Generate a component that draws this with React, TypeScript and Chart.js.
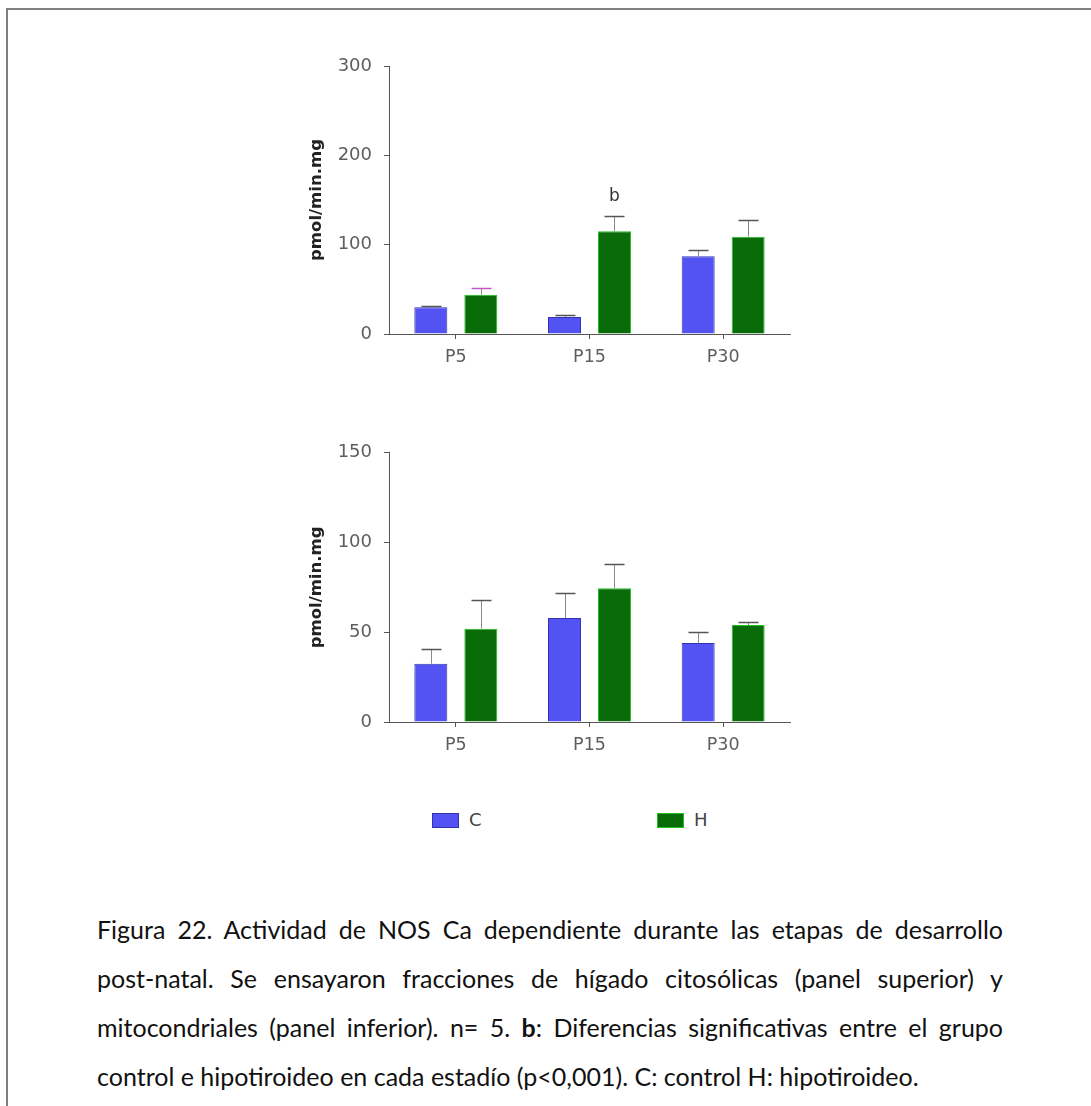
import React, { useEffect, useRef } from 'react';
import { Chart, registerables } from 'chart.js';

Chart.register(...registerables);

// ---------------- data ----------------
const categories = ['P5', 'P15', 'P30'];
const seriesLabels = ['C', 'H'];

// upper panel (cytosolic)
const topC = [30, 19, 87];
const topH = [44, 115, 109];
const topCErr = [1, 2, 7];
const topHErr = [7.5, 17, 19];
const topMax = 300;
const topStep = 100;

// lower panel (mitochondrial)
const bottomC = [32.5, 58, 44];
const bottomH = [52, 74.5, 54];
const bottomCErr = [8, 14, 6];
const bottomHErr = [16, 13.5, 1.5];
const bottomMax = 150;
const bottomStep = 50;

const yTitle = 'pmol/min.mg';
// significance marks: [seriesIndex, categoryIndex, text]
const topMarks: [number, number, string][] = [[1, 1, 'b']];
const bottomMarks: [number, number, string][] = [];

const captionLines = [
  'Figura 22. Actividad de NOS Ca dependiente durante las etapas de desarrollo',
  'post-natal. Se ensayaron fracciones de hígado citosólicas (panel superior) y',
  'mitocondriales (panel inferior). n= 5. <b>b</b>: Diferencias significativas entre el grupo',
  'control e hipotiroideo en cada estadío (p<0,001). C: control H: hipotiroideo.',
];

// ---------------- styles ----------------
const BLUE = '#5353f4';
const BLUE_BORDER = '#3434b0';
const GREEN = '#096c09';
const GREEN_BORDER = '#22c022';
const AXIS = '#555555';
const TICK_TEXT = '#5e5e5e';
const CHART_FONT = '"DejaVu Sans", Verdana, sans-serif';

const errorBarPlugin = {
  id: 'errorBars',
  afterDatasetsDraw(chart: any, _args: any, opts: any) {
    const { ctx } = chart;
    const yScale = chart.scales.y;
    ctx.save();
    chart.data.datasets.forEach((ds: any, di: number) => {
      const meta = chart.getDatasetMeta(di);
      const errs = opts.errors[di] || [];
      meta.data.forEach((bar: any, i: number) => {
        const v = ds.data[i];
        const e = errs[i] || 0;
        const yTop = Math.round(yScale.getPixelForValue(v + e)) + 0.5;
        const yBase = yScale.getPixelForValue(v);
        const x = Math.round(bar.x) + 0.5;
        ctx.strokeStyle = opts.lineColor;
        ctx.lineWidth = 1;
        ctx.beginPath();
        ctx.moveTo(x, yBase);
        ctx.lineTo(x, yTop);
        ctx.stroke();
        ctx.strokeStyle = (opts.capColors && opts.capColors[di] && opts.capColors[di][i]) || opts.capColor;
        ctx.lineWidth = 1.5;
        ctx.beginPath();
        ctx.moveTo(x - opts.capHalf, yTop);
        ctx.lineTo(x + opts.capHalf, yTop);
        ctx.stroke();
      });
    });
    (opts.marks || []).forEach((m: [number, number, string]) => {
      const [di, i, text] = m;
      const meta = chart.getDatasetMeta(di);
      const bar: any = meta.data[i];
      const v = chart.data.datasets[di].data[i];
      const e = (opts.errors[di] || [])[i] || 0;
      const y = yScale.getPixelForValue(v + e) - 20;
      ctx.fillStyle = '#333';
      ctx.font = '17px ' + CHART_FONT;
      ctx.textAlign = 'center';
      ctx.textBaseline = 'middle';
      ctx.fillText(text, bar.x, y);
    });
    ctx.restore();
  },
};

type PanelProps = {
  cVals: number[];
  hVals: number[];
  cErr: number[];
  hErr: number[];
  max: number;
  step: number;
  marks: [number, number, string][];
  padTop: number;
  xHeight: number;
  capColors?: (string | null)[][];
};

function Panel(p: PanelProps) {
  const ref = useRef<HTMLCanvasElement | null>(null);
  useEffect(() => {
    if (!ref.current) return;
    const chart = new Chart(ref.current, {
      type: 'bar',
      data: {
        labels: categories,
        datasets: [
          {
            label: seriesLabels[0],
            data: p.cVals,
            backgroundColor: BLUE,
            borderColor: BLUE_BORDER,
            borderWidth: 1,
            categoryPercentage: 0.748,
            barPercentage: 0.66,
          },
          {
            label: seriesLabels[1],
            data: p.hVals,
            backgroundColor: GREEN,
            borderColor: GREEN_BORDER,
            borderWidth: 1,
            categoryPercentage: 0.748,
            barPercentage: 0.66,
          },
        ],
      },
      options: {
        responsive: false,
        animation: false,
        devicePixelRatio: 1,
        layout: { padding: { top: p.padTop, right: 20, left: 0, bottom: 0 } },
        plugins: {
          legend: { display: false },
          tooltip: { enabled: false },
          errorBars: {
            errors: [p.cErr, p.hErr],
            lineColor: '#8a8a8a',
            capColor: '#555555',
            capColors: p.capColors,
            capHalf: 10,
            marks: p.marks,
          },
        } as any,
        scales: {
          x: {
            type: 'category',
            offset: true,
            grid: {
              display: true,
              drawOnChartArea: false,
              drawTicks: true,
              tickLength: 5,
              offset: false,
              color: AXIS,
            },
            border: { display: true, color: AXIS, width: 1 },
            ticks: {
              color: TICK_TEXT,
              padding: 8,
              font: { family: CHART_FONT, size: 17.5 },
            },
            afterFit: (s: any) => {
              s.height = p.xHeight;
            },
          },
          y: {
            min: 0,
            max: p.max,
            grid: {
              display: true,
              drawOnChartArea: false,
              drawTicks: true,
              tickLength: 5,
              color: AXIS,
            },
            border: { display: true, color: AXIS, width: 1 },
            ticks: {
              stepSize: p.step,
              color: TICK_TEXT,
              padding: 12,
              font: { family: CHART_FONT, size: 18 },
            },
            title: {
              display: true,
              text: yTitle,
              color: '#222',
              padding: { top: 17, bottom: 0 },
              font: { family: CHART_FONT, size: 16.5, weight: 'bold' },
            },
            afterFit: (s: any) => {
              s.width = 99;
            },
          },
        },
      },
      plugins: [errorBarPlugin],
    });
    return () => chart.destroy();
  }, []);
  return <canvas ref={ref} width={520} height={340} style={{ width: 520, height: 340, display: 'block' }} />;
}

const captionStyle: React.CSSProperties = {
  position: 'absolute',
  left: 97,
  width: 906,
  fontFamily: 'Lato, "Open Sans", sans-serif',
  fontSize: 25,
  lineHeight: '27px',
  color: '#111',
};

export default function App() {
  const legendItems = [
    { label: seriesLabels[0], color: BLUE, border: BLUE_BORDER, left: 432 },
    { label: seriesLabels[1], color: GREEN, border: GREEN_BORDER, left: 657 },
  ];
  return (
    <div
      style={{
        position: 'absolute',
        left: 0,
        top: 0,
        width: 1091,
        height: 1106,
        background: '#fff',
        overflow: 'hidden',
      }}
    >
      <div
        style={{
          position: 'absolute',
          left: 6,
          top: 8,
          width: 1100,
          height: 1110,
          borderTop: '2px solid #808080',
          borderLeft: '2px solid #808080',
        }}
      />
      <div style={{ position: 'absolute', left: 290, top: 40 }}>
        <Panel
          cVals={topC}
          hVals={topH}
          cErr={topCErr}
          hErr={topHErr}
          max={topMax}
          step={topStep}
          marks={topMarks}
          padTop={26}
          xHeight={46}
          capColors={[[null, null, null], ['#c455c4', null, null]]}
        />
      </div>
      <div style={{ position: 'absolute', left: 290, top: 430 }}>
        <Panel
          cVals={bottomC}
          hVals={bottomH}
          cErr={bottomCErr}
          hErr={bottomHErr}
          max={bottomMax}
          step={bottomStep}
          marks={bottomMarks}
          padTop={22}
          xHeight={48}
        />
      </div>
      {legendItems.map((it) => (
        <div key={it.label}>
          <div
            style={{
              position: 'absolute',
              left: it.left,
              top: 813,
              width: 27,
              height: 15,
              background: it.color,
              boxSizing: 'border-box',
              border: `1px solid ${it.border}`,
            }}
          />
          <div
            style={{
              position: 'absolute',
              left: it.left + 37,
              top: 809,
              fontFamily: CHART_FONT,
              fontSize: 18,
              lineHeight: '22px',
              color: '#444',
            }}
          >
            {it.label}
          </div>
        </div>
      ))}
      {captionLines.map((line, i) => (
        <div
          key={i}
          style={{
            ...captionStyle,
            top: 916 + i * 49,
            textAlign: 'justify',
            textAlignLast: i < captionLines.length - 1 ? 'justify' : 'left',
          } as React.CSSProperties}
          dangerouslySetInnerHTML={{
            __html: line
              .replace(/&/g, '&amp;')
              .replace(/<(?!\/?b>)/g, '&lt;'),
          }}
        />
      ))}
    </div>
  );
}
